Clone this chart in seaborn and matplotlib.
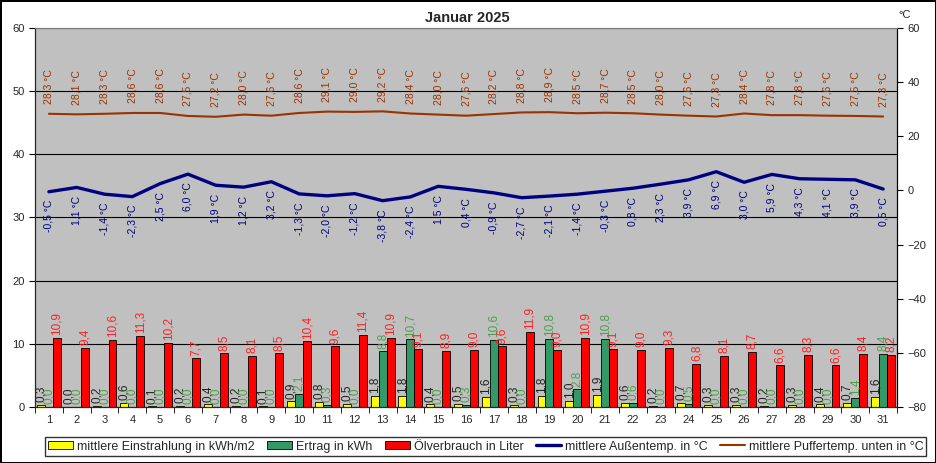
import numpy as np
import pandas as pd
import matplotlib.pyplot as plt
import seaborn as sns
from matplotlib.patches import Patch
from matplotlib.lines import Line2D

days = list(range(1, 32))
einstrahlung = [0.3, 0.0, 0.2, 0.6, 0.1, 0.2, 0.4, 0.2, 0.1, 0.9, 0.8, 0.5, 1.8, 1.8, 0.4, 0.5,
                1.6, 0.3, 1.8, 1.0, 1.9, 0.6, 0.2, 0.7, 0.3, 0.3, 0.2, 0.3, 0.4, 0.7, 1.6]
ertrag = [0.0, 0.0, 0.0, 0.0, 0.0, 0.0, 0.0, 0.0, 0.0, 2.1, 0.3, 0.0, 8.8, 10.7, 0.0, 0.3,
          10.6, 0.0, 10.8, 2.8, 10.8, 0.6, 0.0, 0.5, 0.0, 0.0, 0.0, 0.0, 0.0, 1.4, 8.4]
oel = [10.9, 9.4, 10.6, 11.3, 10.2, 7.7, 8.5, 8.1, 8.5, 10.4, 9.6, 11.4, 10.9, 9.1, 8.9, 9.0,
       9.6, 11.9, 9.0, 10.9, 9.1, 9.0, 9.3, 6.8, 8.1, 8.7, 6.6, 8.3, 6.6, 8.4, 8.2]
aussen = [-0.5, 1.1, -1.4, -2.3, 2.5, 6.0, 1.9, 1.2, 3.2, -1.3, -2.0, -1.2, -3.8, -2.4, 1.5, 0.4,
          -0.9, -2.7, -2.1, -1.4, -0.3, 0.8, 2.3, 3.9, 6.9, 3.0, 5.9, 4.3, 4.1, 3.9, 0.5]
puffer = [28.3, 28.1, 28.3, 28.6, 28.6, 27.5, 27.2, 28.0, 27.6, 28.6, 29.1, 29.0, 29.2, 28.4, 28.0, 27.6,
          28.2, 28.8, 28.9, 28.5, 28.7, 28.5, 28.0, 27.6, 27.3, 28.4, 27.8, 27.8, 27.6, 27.5, 27.3]

bar_names = ['mittlere Einstrahlung in kWh/m2', 'Ertrag in kWh', 'Ölverbrauch in Liter']
line_names = ['mittlere Außentemp. in °C', 'mittlere Puffertemp. unten in °C']
bar_colors = ['#FFFF00', '#339966', '#FF0000']
label_colors = ['#222222', '#4CA04C', '#FF2020']
navy = '#000080'
brown = '#993300'

sns.set_style('ticks')
plt.rcParams['font.family'] = ['Liberation Sans', 'DejaVu Sans']

df = pd.DataFrame({'Tag': days, bar_names[0]: einstrahlung, bar_names[1]: ertrag, bar_names[2]: oel})
long = df.melt(id_vars='Tag', var_name='Serie', value_name='Wert')

def komma(v, unit=''):
    return f'{v:.1f}'.replace('.', ',') + unit

fig = plt.figure(figsize=(9.36, 4.63), dpi=100, facecolor='white', edgecolor='black', linewidth=2)
ax = fig.add_axes([0.0374, 0.121, 0.921, 0.8186])
ax.set_facecolor('#C0C0C0')

sns.barplot(data=long, x='Tag', y='Wert', hue='Serie', hue_order=bar_names, palette=bar_colors,
            width=0.86, edgecolor='black', linewidth=0.6, saturation=1, legend=False, ax=ax)

for cont, vals, col in zip(ax.containers, [einstrahlung, ertrag, oel], label_colors):
    ax.bar_label(cont, labels=[komma(v) for v in vals], rotation=90, padding=2,
                 fontsize=8.5, color=col)

ax.set_ylim(0, 60)
ax.set_yticks(range(0, 61, 10))
ax.set_xlim(-0.5, 30.5)
ax.set_xlabel('')
ax.set_ylabel('')
ax.yaxis.grid(True, color='black', lw=0.8)
ax.set_axisbelow(True)
ax.set_xticks(np.arange(-0.5, 31, 1), minor=True)
ax.tick_params(axis='x', which='major', length=0, labelsize=8, pad=6)
ax.tick_params(axis='x', which='minor', length=4, direction='out', color='black')
ax.tick_params(axis='y', length=4, labelsize=8, color='black')
for side in ['left', 'bottom', 'right']:
    ax.spines[side].set_color('black')
ax.spines['top'].set_color('#808080')

ax2 = ax.twinx()
pos = np.arange(len(days))
sns.lineplot(x=pos, y=aussen, color=navy, lw=2.4, ax=ax2)
sns.lineplot(x=pos, y=puffer, color=brown, lw=1.5, ax=ax2)
for i, v in enumerate(aussen):
    ax2.annotate(komma(v, ' °C'), (i, v), xytext=(0, -6), textcoords='offset points',
                 rotation=90, ha='center', va='top', color=navy, fontsize=7.5)
for i, v in enumerate(puffer):
    ax2.annotate(komma(v, ' °C'), (i, v), xytext=(0, 7), textcoords='offset points',
                 rotation=90, ha='center', va='bottom', color=brown, fontsize=7.5)
ax2.set_ylim(-80, 60)
ax2.set_yticks(range(-80, 61, 20))
ax2.tick_params(axis='y', length=4, labelsize=8, color='black')
ax2.spines['right'].set_color('black')
ax2.spines['top'].set_color('#808080')

fig.text(0.499, 0.961, 'Januar 2025', ha='center', va='center', fontsize=10.5, fontweight='bold')
fig.text(0.967, 0.968, '°C', ha='center', va='center', fontsize=8)

handles = [Patch(facecolor=c, edgecolor='black', lw=0.6) for c in bar_colors]
handles += [Line2D([], [], color=navy, lw=2.4), Line2D([], [], color=brown, lw=1.5)]
leg = fig.legend(handles, bar_names + line_names, ncol=5, loc='center', bbox_to_anchor=(0.519, 0.0356),
                 frameon=True, fancybox=False, edgecolor='black', fontsize=9, handlelength=2.0,
                 handleheight=0.6, columnspacing=1.0, handletextpad=0.3, borderpad=0.25, borderaxespad=0)
leg.get_frame().set_linewidth(1.0)

fig.savefig('out.png', dpi=100)
